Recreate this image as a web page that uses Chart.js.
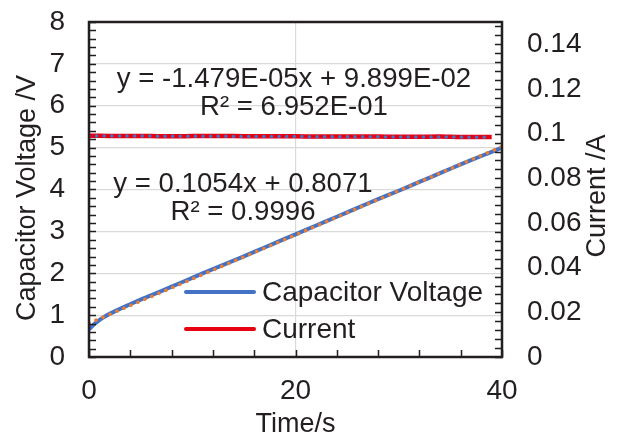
<!DOCTYPE html>
<html>
<head>
<meta charset="utf-8">
<script src="https://cdn.jsdelivr.net/npm/chart.js@4.4.1/dist/chart.umd.min.js"></script>
<style>
  html, body { margin: 0; padding: 0; background: #fff; }
  canvas { display: block; }
</style>
</head>
<body>
<canvas id="chart" width="623" height="441"></canvas>
<script>
// capacitor voltage (left axis)
var timeV = [0, 0.5, 1, 1.5, 2, 3, 4, 5, 6, 8, 10, 12, 14, 16, 18, 20, 22, 24, 26, 28, 30, 32, 34, 36, 38, 40];
var voltage = [0.66, 0.78, 0.88, 0.96, 1.03, 1.15, 1.26, 1.37, 1.47, 1.68, 1.89, 2.10, 2.30, 2.51, 2.72, 2.93, 3.14, 3.35, 3.56, 3.77, 3.97, 4.18, 4.39, 4.60, 4.80, 5.00];

// current (right axis)
var timeI = [0, 2, 4, 6, 8, 10, 12, 14, 16, 18, 20, 22, 24, 26, 28, 30, 32, 34, 36, 38, 39];
var current = [0.0991, 0.0990, 0.0990, 0.0989, 0.0988, 0.0989, 0.0990, 0.0989, 0.0988, 0.0988, 0.0988, 0.0987, 0.0987, 0.0987, 0.0987, 0.0986, 0.0986, 0.0987, 0.0985, 0.0985, 0.0985];

// linear trend lines (end points)
var trendTimeV = [0, 40];
var trendV = [0.8071, 5.0231];
var trendTimeI = [0, 39];
var trendI = [0.09899, 0.09841];

var xTicks = [0, 20, 40];
var leftTicks = [0, 1, 2, 3, 4, 5, 6, 7, 8];
var rightTicks = [0, 0.02, 0.04, 0.06, 0.08, 0.1, 0.12, 0.14];

var equations = ['y = -1.479E-05x + 9.899E-02', 'R\u00B2 = 6.952E-01', 'y = 0.1054x + 0.8071', 'R\u00B2 = 0.9996'];
var seriesNames = ['Capacitor Voltage', 'Current'];

var FONT = '"Liberation Sans", Arial, sans-serif';
var INK = '#231f20';
var BLUE = '#4472C4';
var ORANGE = '#ED7D31';
var RED = '#E60012';

function pts(xs, ys) {
  return xs.map(function (x, i) { return { x: x, y: ys[i] }; });
}

// keep the plot box where it is, whatever the label sizes
function fixBox(size, dim) {
  return function (s) {
    s[dim] = size;
    s.paddingTop = 0; s.paddingBottom = 0;
    s.paddingLeft = 0; s.paddingRight = 0;
  };
}

var decorations = {
  id: 'decorations',
  afterDraw: function (chart) {
    var ctx = chart.ctx;
    var a = chart.chartArea;
    var sx = chart.scales.x, sy = chart.scales.y, sy2 = chart.scales.y2;
    ctx.save();
    ctx.strokeStyle = INK;
    ctx.lineWidth = 1.5;
    // inward ticks
    ctx.beginPath();
    var v, p;
    for (v = 0; v <= 8.001; v += 0.2) {
      p = Math.round(sy.getPixelForValue(v)) + 0.5;
      ctx.moveTo(a.left, p); ctx.lineTo(a.left + 7, p);
    }
    for (v = 0; v <= 0.1501; v += 0.004) {
      p = Math.round(sy2.getPixelForValue(v)) + 0.5;
      ctx.moveTo(a.right, p); ctx.lineTo(a.right - 7, p);
    }
    for (v = 0; v <= 40.001; v += 4) {
      p = Math.round(sx.getPixelForValue(v)) + 0.5;
      ctx.moveTo(p, a.bottom); ctx.lineTo(p, a.bottom - 7);
    }
    ctx.stroke();
    // frame
    ctx.lineWidth = 2.5;
    ctx.strokeRect(a.left, a.top, a.right - a.left, a.bottom - a.top);

    // equations
    ctx.fillStyle = INK;
    ctx.font = '27.6px ' + FONT;
    ctx.textAlign = 'center';
    ctx.textBaseline = 'alphabetic';
    ctx.fillText(equations[0], 294, 87);
    ctx.fillText(equations[1], 294, 115);
    ctx.fillText(equations[2], 243, 192);
    ctx.fillText(equations[3], 243, 220);

    // legend
    ctx.lineWidth = 4;
    ctx.lineCap = 'round';
    ctx.strokeStyle = BLUE;
    ctx.beginPath(); ctx.moveTo(186, 292); ctx.lineTo(254, 292); ctx.stroke();
    ctx.strokeStyle = RED;
    ctx.beginPath(); ctx.moveTo(186, 329); ctx.lineTo(254, 329); ctx.stroke();
    ctx.font = '28px ' + FONT;
    ctx.textAlign = 'left';
    ctx.textBaseline = 'middle';
    ctx.fillText(seriesNames[0], 262, 293);
    ctx.fillText(seriesNames[1], 262, 330);

    // axis titles
    ctx.font = '27px ' + FONT;
    ctx.textAlign = 'center';
    ctx.textBaseline = 'middle';
    ctx.fillText('Time/s', (a.left + a.right) / 2, 425);
    ctx.save();
    ctx.translate(28, 198);
    ctx.rotate(-Math.PI / 2);
    ctx.fillText('Capacitor Voltage /V', 0, 0);
    ctx.restore();
    ctx.save();
    ctx.translate(598, 196);
    ctx.rotate(-Math.PI / 2);
    ctx.fillText('Current /A', 0, 0);
    ctx.restore();
    ctx.restore();
  }
};

var tickFont = { family: FONT, size: 28 };

new Chart(document.getElementById('chart'), {
  type: 'scatter',
  data: {
    datasets: [
      { data: pts(trendTimeI, trendI), yAxisID: 'y2', showLine: true, borderColor: BLUE, borderWidth: 3.5,
        borderDash: [0.1, 7.5], borderCapStyle: 'round', pointRadius: 0, order: 1 },
      { data: pts(timeI, current), yAxisID: 'y2', showLine: true, borderColor: RED, borderWidth: 4.5,
        pointRadius: 0, tension: 0.3, order: 2 },
      { data: pts(trendTimeV, trendV), yAxisID: 'y', showLine: true, borderColor: ORANGE, borderWidth: 3.5,
        borderDash: [0.1, 7.5], borderCapStyle: 'round', pointRadius: 0, order: 3 },
      { data: pts(timeV, voltage), yAxisID: 'y', showLine: true, borderColor: BLUE, borderWidth: 4,
        pointRadius: 0, tension: 0.3, order: 4 }
    ]
  },
  options: {
    responsive: false,
    animation: false,
    layout: { padding: { top: 22, left: 0, right: 0, bottom: 0 } },
    plugins: { legend: { display: false }, tooltip: { enabled: false } },
    scales: {
      x: {
        type: 'linear', min: 0, max: 40,
        afterBuildTicks: function (s) { s.ticks = xTicks.map(function (v) { return { value: v }; }); },
        afterFit: fixBox(84, 'height'),
        ticks: { font: tickFont, color: INK, padding: 17, maxRotation: 0 },
        grid: { drawTicks: false, lineWidth: 1.2,
          color: function (c) { return c.tick && c.tick.value === 20 ? '#d9d9d9' : 'rgba(0,0,0,0)'; } },
        border: { display: false }
      },
      y: {
        position: 'left', min: 0, max: 8,
        afterBuildTicks: function (s) { s.ticks = leftTicks.map(function (v) { return { value: v }; }); },
        afterFit: fixBox(89, 'width'),
        ticks: { font: tickFont, color: INK, padding: 24 },
        grid: { drawTicks: false, lineWidth: 1.2,
          color: function (c) { return c.tick && c.tick.value > 0 && c.tick.value < 8 ? '#d9d9d9' : 'rgba(0,0,0,0)'; } },
        border: { display: false }
      },
      y2: {
        position: 'right', min: 0, max: 0.15,
        afterBuildTicks: function (s) { s.ticks = rightTicks.map(function (v) { return { value: v }; }); },
        afterFit: fixBox(121, 'width'),
        ticks: { font: tickFont, color: INK, padding: 25,
          callback: function (v) { return String(+v.toFixed(2)); } },
        grid: { drawOnChartArea: false, drawTicks: false },
        border: { display: false }
      }
    }
  },
  plugins: [decorations]
});
</script>
</body>
</html>
